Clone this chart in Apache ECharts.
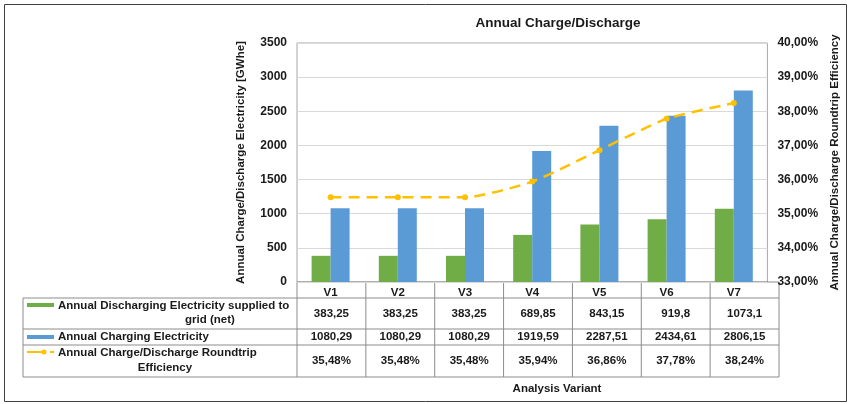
<!DOCTYPE html>
<html>
<head>
<meta charset="utf-8">
<script src="https://cdn.jsdelivr.net/npm/echarts@6/dist/echarts.min.js"></script>
<style>
  html, body { margin: 0; padding: 0; background: #fff; }
  #chart { width: 849px; height: 404px; }
</style>
</head>
<body>
<div id="chart"></div>
<script>
var variants = ['V1', 'V2', 'V3', 'V4', 'V5', 'V6', 'V7'];
var discharging = [383.25, 383.25, 383.25, 689.85, 843.15, 919.8, 1073.1];
var charging = [1080.29, 1080.29, 1080.29, 1919.59, 2287.51, 2434.61, 2806.15];
var efficiency = [0.3548, 0.3548, 0.3548, 0.3594, 0.3686, 0.3778, 0.3824];

var rowNames = [
  ['Annual Discharging Electricity supplied to', 'grid (net)'],
  ['Annual Charging Electricity'],
  ['Annual Charge/Discharge Roundtrip', 'Efficiency']
];

var FONT = '"Liberation Sans", Arial, sans-serif';
var TXT = '#1a1a1a';
var GREEN = '#70AD47', BLUE = '#5B9BD5', ORANGE = '#FFC000';

function comma(v) { return String(v).replace('.', ','); }
function pct(v) { return (v * 100).toFixed(2).replace('.', ',') + '%'; }

// plot area
var gL = 297, gR = 779, gT = 43, gB = 282;
var colW = (gR - gL) / variants.length;
var tabL = 23;
var rowY = [282, 298, 329, 345, 377];   // header, row1, row2, row3 edges

var chart = echarts.init(document.getElementById('chart'));

var g = [];
var lineStyle = { stroke: '#8c8c8c', lineWidth: 1 };
// outer frame
g.push({ type: 'rect', shape: { x: 4.5, y: 4.5, width: 842, height: 397 }, style: { fill: null, stroke: '#404040', lineWidth: 1 } });
// table horizontal lines
g.push({ type: 'line', shape: { x1: gL, y1: rowY[0], x2: gR, y2: rowY[0] }, style: lineStyle });
for (var r = 1; r < rowY.length; r++) {
  g.push({ type: 'line', shape: { x1: tabL, y1: rowY[r], x2: gR, y2: rowY[r] }, style: lineStyle });
}
// vertical lines
g.push({ type: 'line', shape: { x1: tabL, y1: rowY[1], x2: tabL, y2: rowY[4] }, style: lineStyle });
for (var c = 0; c <= variants.length; c++) {
  var x = gL + c * colW;
  g.push({ type: 'line', shape: { x1: x, y1: rowY[0], x2: x, y2: rowY[4] }, style: lineStyle });
}
// cell values
var rows = [discharging.map(comma), charging.map(comma), efficiency.map(pct)];
rows.forEach(function (vals, ri) {
  var cy = (rowY[ri + 1] + rowY[ri + 2]) / 2;
  vals.forEach(function (v, ci) {
    g.push({ type: 'text', style: { text: v, x: gL + (ci + 0.5) * colW, y: cy, align: 'center', verticalAlign: 'middle', font: 'bold 11.5px ' + FONT, fill: TXT } });
  });
});
// legend keys
g.push({ type: 'rect', shape: { x: 27, y: 303, width: 27, height: 4 }, style: { fill: GREEN } });
g.push({ type: 'rect', shape: { x: 27, y: 335, width: 27, height: 4 }, style: { fill: BLUE } });
g.push({ type: 'line', shape: { x1: 27, y1: 352, x2: 45, y2: 352 }, style: { stroke: ORANGE, lineWidth: 2 } });
g.push({ type: 'circle', shape: { cx: 44, cy: 352, r: 2.5 }, style: { fill: ORANGE } });
g.push({ type: 'line', shape: { x1: 50, y1: 352, x2: 54, y2: 352 }, style: { stroke: ORANGE, lineWidth: 2 } });
// row names
g.push({ type: 'text', style: { text: rowNames[0][0], x: 58, y: 306, verticalAlign: 'middle', font: 'bold 11.5px ' + FONT, fill: TXT } });
g.push({ type: 'text', style: { text: rowNames[0][1], x: 210, y: 320, align: 'center', verticalAlign: 'middle', font: 'bold 11.5px ' + FONT, fill: TXT } });
g.push({ type: 'text', style: { text: rowNames[1][0], x: 58, y: 337, verticalAlign: 'middle', font: 'bold 11.5px ' + FONT, fill: TXT } });
g.push({ type: 'text', style: { text: rowNames[2][0], x: 58, y: 353, verticalAlign: 'middle', font: 'bold 11.5px ' + FONT, fill: TXT } });
g.push({ type: 'text', style: { text: rowNames[2][1], x: 165, y: 368, align: 'center', verticalAlign: 'middle', font: 'bold 11.5px ' + FONT, fill: TXT } });
// x axis title
g.push({ type: 'text', style: { text: 'Analysis Variant', x: 557, y: 389, align: 'center', verticalAlign: 'middle', font: 'bold 11.5px ' + FONT, fill: TXT } });

chart.setOption({
  backgroundColor: '#ffffff',
  animation: false,
  title: {
    text: 'Annual Charge/Discharge',
    left: 553,
    top: 11,
    textAlign: 'center',
    textStyle: { fontFamily: FONT, fontSize: 13.5, fontWeight: 'bold', color: TXT }
  },
  grid: { left: gL, right: 849 - gR, top: gT, bottom: 404 - gB, show: true, borderColor: '#a6a6a6', borderWidth: 1 },
  xAxis: {
    type: 'category',
    data: variants,
    axisLine: { show: false },
    axisTick: { show: false },
    axisLabel: { margin: 5, fontFamily: FONT, fontSize: 11.5, fontWeight: 'bold', color: TXT }
  },
  yAxis: [{
    type: 'value',
    min: 0, max: 3500, interval: 500,
    name: 'Annual Charge/Discharge Electricity [GWhe]',
    nameLocation: 'middle',
    nameGap: 50,
    nameTextStyle: { fontFamily: FONT, fontSize: 11.5, fontWeight: 'bold', color: TXT },
    axisLine: { show: false },
    axisTick: { show: false },
    axisLabel: { margin: 10, fontFamily: FONT, fontSize: 12, fontWeight: 'bold', color: TXT, formatter: function (v) { return String(v); } },
    splitLine: { lineStyle: { color: '#d9d9d9' } }
  }, {
    type: 'value',
    min: 0.33, max: 0.40, interval: 0.01,
    name: 'Annual Charge/Discharge Roundtrip Efficiency',
    nameLocation: 'middle',
    nameGap: 59,
    nameRotate: 90,
    nameTextStyle: { fontFamily: FONT, fontSize: 11.5, fontWeight: 'bold', color: TXT },
    axisLine: { show: false },
    axisTick: { show: false },
    axisLabel: { margin: 10, fontFamily: FONT, fontSize: 12, fontWeight: 'bold', color: TXT, formatter: pct },
    splitLine: { show: false }
  }],
  series: [{
    name: 'Annual Discharging Electricity supplied to grid (net)',
    type: 'bar',
    data: discharging,
    barWidth: 19,
    barGap: '0%',
    itemStyle: { color: GREEN }
  }, {
    name: 'Annual Charging Electricity',
    type: 'bar',
    data: charging,
    barWidth: 19,
    barGap: '0%',
    itemStyle: { color: BLUE }
  }, {
    name: 'Annual Charge/Discharge Roundtrip Efficiency',
    type: 'line',
    yAxisIndex: 1,
    data: efficiency,
    smooth: 0.2,
    symbol: 'circle',
    symbolSize: 6,
    itemStyle: { color: ORANGE },
    lineStyle: { color: ORANGE, width: 2.5, type: [11, 7] },
    z: 5
  }],
  graphic: g
});
</script>
</body>
</html>
